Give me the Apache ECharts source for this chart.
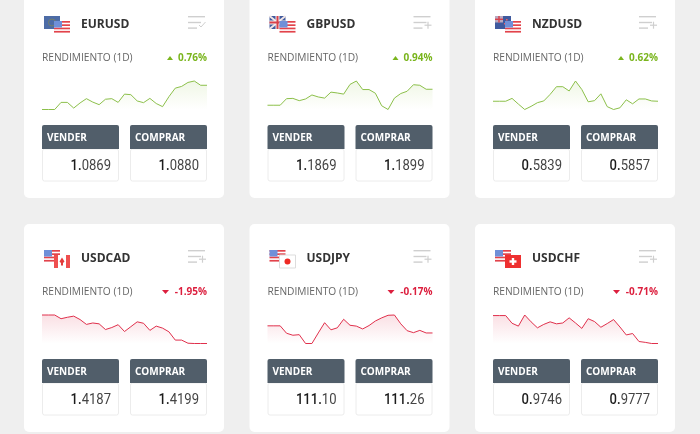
<!DOCTYPE html>
<html>
<head>
<meta charset="utf-8">
<style>html,body{margin:0;padding:0;background:#efefef}#chart{width:700px;height:434px}</style>
<script src="https://cdn.jsdelivr.net/npm/echarts@6/dist/echarts.min.js"></script>
</head>
<body>
<div id="chart"></div>
<script>
var pairs = ['EURUSD', 'GBPUSD', 'NZDUSD', 'USDCAD', 'USDJPY', 'USDCHF'];
var changes = ['0.76%', '0.94%', '0.62%', '-1.95%', '-0.17%', '-0.71%'];
var sellBig = ['1.', '1.', '0.', '1.', '111.', '0.'];
var sellRest = ['0869', '1869', '5839', '4187', '10', '9746'];
var buyBig = ['1.', '1.', '0.', '1.', '111.', '0.'];
var buyRest = ['0880', '1899', '5857', '4199', '26', '9777'];
var slots = ['1', '2', '3', '4', '5', '6', '7', '8', '9', '10', '11', '12', '13', '14', '15', '16', '17', '18', '19', '20', '21', '22', '23', '24', '25', '26', '27'];

// sparkline values, relative height 0-100
var eurusd = [0, 0, 0, 25, 25, 5, 23, 38, 26, 17, 36, 38, 25, 54, 52, 30, 24, 39, 21, 10, 45, 75, 81, 95, 100, 85, 85];
var gbpusd = [15, 15, 15, 38, 39, 31, 37, 51, 44, 40, 61, 58, 54, 88, 100, 70, 70, 57, 13, 0, 40, 56, 64, 87, 85, 71, 71];
var nzdusd = [29, 29, 29, 39, 19, 0, 11, 24, 30, 53, 80, 80, 65, 100, 70, 27, 31, 55, 10, 0, 6, 34, 20, 37, 37, 30, 29];
var usdcad = [100, 100, 100, 87, 92, 96, 84, 67, 72, 69, 49, 56, 66, 42, 59, 76, 71, 46, 61, 54, 41, 12, 12, 1, 0, 0, 0];
var usdjpy = [62, 62, 62, 36, 29, 31, 0, 0, 37, 73, 48, 55, 85, 64, 61, 51, 63, 79, 90, 99, 100, 69, 45, 38, 46, 37, 37];
var usdchf = [98, 98, 98, 71, 61, 100, 76, 55, 67, 76, 69, 72, 90, 72, 53, 87, 77, 57, 70, 84, 58, 30, 35, 7, 4, 0, 0];
var lines = [eurusd, gbpusd, nzdusd, usdcad, usdjpy, usdchf];

var flags = [['eu', 'us'], ['gb', 'us'], ['nz', 'us'], ['us', 'ca'], ['us', 'jp'], ['us', 'ch']];
var cardX = [24, 249.5, 475];
var cardY = [-10, 224];
var GREEN = '#7ab51d', RED = '#dc1f3e', DARK = '#515e6a';
var FONT = '"Open Sans", sans-serif';

var chart = echarts.init(document.getElementById('chart'));
var g = [];

function rect(x, y, w, h, fill, r, stroke) {
    g.push({ type: 'rect', silent: true, shape: { x: x, y: y, width: w, height: h, r: r || 0 },
        style: { fill: fill, stroke: stroke || null, lineWidth: stroke ? 1 : 0 } });
}
function text(x, y, str, size, color, weight, align) {
    g.push({ type: 'text', silent: true, x: x, y: y,
        style: { text: str, font: (weight || 'normal') + ' ' + size + 'px ' + FONT, fill: color,
            align: align || 'left', verticalAlign: 'middle' } });
}
function poly(pts, fill) {
    g.push({ type: 'polygon', silent: true, shape: { points: pts }, style: { fill: fill } });
}

function flag(kind, x, y) {
    var w = 16, h = 13, i;
    if (kind == 'us') {
        rect(x, y, w, h, '#ffffff');
        for (i = 0; i < 4; i++) rect(x, y + i * 3.3, w, 1.7, '#e2434b');
        rect(x, y, 8, 6.5, '#6f8fd8');
    } else if (kind == 'eu') {
        rect(x, y, w, h, '#4d6ca6');
        g.push({ type: 'circle', silent: true, shape: { cx: x + 8, cy: y + 6.5, r: 3.5 }, style: { fill: null, stroke: '#75806a', lineWidth: 1 } });
    } else if (kind == 'gb') {
        rect(x, y, w, h, '#3f5a9e');
        g.push({ type: 'line', silent: true, shape: { x1: x, y1: y, x2: x + w, y2: y + h }, style: { stroke: '#f2e6e6', lineWidth: 2 } });
        g.push({ type: 'line', silent: true, shape: { x1: x + w, y1: y, x2: x, y2: y + h }, style: { stroke: '#f2e6e6', lineWidth: 2 } });
        rect(x + 6, y, 4, h, '#f4eeee');
        rect(x, y + 4.5, w, 4, '#f4eeee');
        rect(x + 7, y, 2, h, '#d8404a');
        rect(x, y + 5.5, w, 2, '#d8404a');
    } else if (kind == 'nz') {
        rect(x, y, w, h, '#3f5a9e');
        rect(x, y, 8, 6.5, '#b9a9c0');
        rect(x + 3.3, y, 1.4, 6.5, '#d8404a');
        rect(x, y + 2.6, 8, 1.4, '#d8404a');
        rect(x + 11, y + 3, 1.6, 1.6, '#e8606a');
        rect(x + 9, y + 7, 1.6, 1.6, '#e8606a');
    } else if (kind == 'ca') {
        rect(x, y, w, h, '#ffffff');
        rect(x, y, 4, h, '#ef4f4f');
        rect(x + 12, y, 4, h, '#ef4f4f');
        poly([[x + 8, y + 2.5], [x + 10.5, y + 6.5], [x + 9, y + 8], [x + 9, y + 10.5], [x + 7, y + 10.5], [x + 7, y + 8], [x + 5.5, y + 6.5]], '#e23b3b');
    } else if (kind == 'jp') {
        rect(x, y, w, h, '#ffffff', 0, '#dddddd');
        g.push({ type: 'circle', silent: true, shape: { cx: x + 8, cy: y + 6.5, r: 3 }, style: { fill: '#ee2a24' } });
    } else if (kind == 'ch') {
        rect(x, y, w, h, '#ee3030');
        rect(x + 6.8, y + 3, 2.4, 7, '#ffffff');
        rect(x + 4.5, y + 5.3, 7, 2.4, '#ffffff');
    }
}

function menuIcon(x, y, checked) {
    var c = '#cfcfcf';
    rect(x, y, 17, 1.4, c);
    rect(x, y + 5.8, 13, 1.4, c);
    rect(x, y + 11.4, 9, 1.4, c);
    if (checked) {
        g.push({ type: 'polyline', silent: true, shape: { points: [[x + 11, y + 9], [x + 13, y + 11], [x + 17.5, y + 6]] },
            style: { stroke: c, lineWidth: 1, fill: null } });
    } else {
        rect(x + 11, y + 8.6, 7, 1.2, c);
        rect(x + 13.9, y + 5.7, 1.2, 7, c);
    }
}

function quote(x, y, label, big, rest) {
    rect(x + 0.5, y + 24, 76, 32, '#ffffff', 2, '#ececec');
    rect(x, y, 77, 24, DARK, [2, 2, 0, 0]);
    text(x + 5, y + 13, label, 10, '#ffffff', 'bold');
    g.push({ type: 'text', silent: true, x: x + 69, y: y + 41.5, scaleX: 0.87,
        style: { text: '{a|' + big + '}{b|' + rest + '}', align: 'right', verticalAlign: 'middle',
            rich: { a: { font: '500 15px Roboto', fill: '#1c1c1c' }, b: { font: 'normal 15px Roboto', fill: '#444444' } } } });
}

var grids = [], xAxes = [], yAxes = [], series = [];
pairs.forEach(function (name, i) {
    var cx = cardX[i % 3], cy = cardY[i < 3 ? 0 : 1];
    var left = cx + 18, right = cx + 183;
    var up = changes[i].charAt(0) != '-';
    var col = up ? GREEN : RED;

    rect(cx, cy, 200, 208, '#ffffff', 5);
    flag(flags[i][0], cx + 20, cy + 26);
    flag(flags[i][1], cx + 30, cy + 31);
    text(cx + 57, cy + 34.5, name, 12, '#333333', 'bold');
    menuIcon(cx + 164, cy + 26, i == 0);
    text(left, cy + 68, 'RENDIMIENTO (1D)', 10.2, '#666666');
    text(right, cy + 68, changes[i], 10, col, 'bold', 'right');
    var tx = right - (up ? 37 : 41.5), ty = cy + 68;
    if (up) poly([[tx - 3, ty + 2], [tx + 3, ty + 2], [tx, ty - 2]], col);
    else poly([[tx - 3.5, ty - 2], [tx + 3.5, ty - 2], [tx, ty + 2]], col);
    quote(left, cy + 135, 'VENDER', sellBig[i], sellRest[i]);
    quote(left + 88, cy + 135, 'COMPRAR', buyBig[i], buyRest[i]);

    grids.push({ left: left, width: right - left, top: cy + 91, height: 28.5 });
    xAxes.push({ type: 'category', gridIndex: i, data: slots, show: false, boundaryGap: false });
    yAxes.push({ type: 'value', gridIndex: i, min: 0, max: 100, show: false });
    series.push({
        name: name, type: 'line', xAxisIndex: i, yAxisIndex: i, data: lines[i], z: 10,
        symbol: 'none', silent: true, clip: false,
        lineStyle: { color: up ? '#8cc04a' : '#e0304c', width: 1 },
        areaStyle: { color: new echarts.graphic.LinearGradient(0, 0, 0, 1, [
            { offset: 0, color: up ? 'rgba(122,181,29,0.16)' : 'rgba(220,31,62,0.2)' },
            { offset: 1, color: up ? 'rgba(122,181,29,0)' : 'rgba(220,31,62,0)' }
        ]) }
    });
});

chart.setOption({
    animation: false,
    backgroundColor: '#efefef',
    graphic: { elements: g },
    grid: grids,
    xAxis: xAxes,
    yAxis: yAxes,
    series: series
});
</script>
</body>
</html>
